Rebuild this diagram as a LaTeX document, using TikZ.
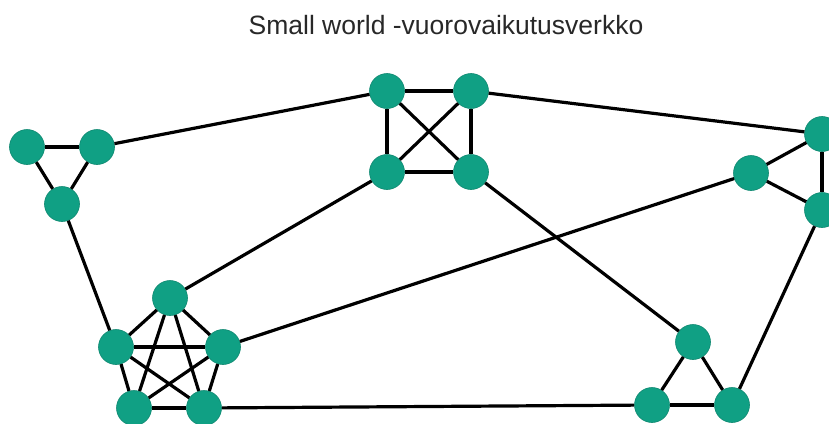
\documentclass[tikz,border=0pt]{standalone}
\usepackage{fontspec}
\setmainfont{Liberation Sans}
\definecolor{nodeteal}{RGB}{16,160,132}
\definecolor{titlegray}{RGB}{40,40,40}
\begin{document}
\begin{tikzpicture}[x=1pt,y=-1pt,
  vtx/.style={circle,fill=nodeteal,draw=nodeteal!85!black,line width=0.6pt,minimum size=35pt,inner sep=0pt},
  edge/.style={line width=3.2pt,black}]
\useasboundingbox (0,0) rectangle (829,423);
\node[text=titlegray,font=\fontsize{26.5}{30}\selectfont] (title) at (446,25) {Small world -vuorovaikutusverkko};
% left triangle
\node[vtx] (A1) at (27,147) {};
\node[vtx] (A2) at (97,147) {};
\node[vtx] (A3) at (62,204) {};
% square
\node[vtx] (S1) at (387,91) {};
\node[vtx] (S2) at (471,91) {};
\node[vtx] (S3) at (387,172) {};
\node[vtx] (S4) at (471,172) {};
% right triangle
\node[vtx] (R1) at (822,134) {};
\node[vtx] (R2) at (751,173) {};
\node[vtx] (R3) at (822,210) {};
% pentagon
\node[vtx] (P1) at (170,298) {};
\node[vtx] (P2) at (116,347) {};
\node[vtx] (P3) at (223,347) {};
\node[vtx] (P4) at (134,408) {};
\node[vtx] (P5) at (204,408) {};
% bottom right triangle
\node[vtx] (B1) at (693,342) {};
\node[vtx] (B2) at (652,405) {};
\node[vtx] (B3) at (732,405) {};
\begin{scope}[edge]
\draw (A1) -- (A2); \draw (A1) -- (A3); \draw (A2) -- (A3);
\draw (A2) -- (S1);
\draw (A3) -- (P2);
\draw (S1) -- (S2); \draw (S1) -- (S3); \draw (S2) -- (S4); \draw (S3) -- (S4);
\draw (S1) -- (S4); \draw (S2) -- (S3);
\draw (S2) -- (R1);
\draw (S3) -- (P1);
\draw (S4) -- (B1);
\draw (R1) -- (R2); \draw (R1) -- (R3); \draw (R2) -- (R3);
\draw (P3) -- (R2);
\draw (R3) -- (B3);
\draw (P1) -- (P2); \draw (P1) -- (P3); \draw (P2) -- (P4); \draw (P3) -- (P5); \draw (P4) -- (P5);
\draw (P1) -- (P4); \draw (P1) -- (P5); \draw (P2) -- (P3); \draw (P2) -- (P5); \draw (P3) -- (P4);
\draw (P5) -- (B2);
\draw (B1) -- (B2); \draw (B1) -- (B3); \draw (B2) -- (B3);
\end{scope}
\end{tikzpicture}
\end{document}
